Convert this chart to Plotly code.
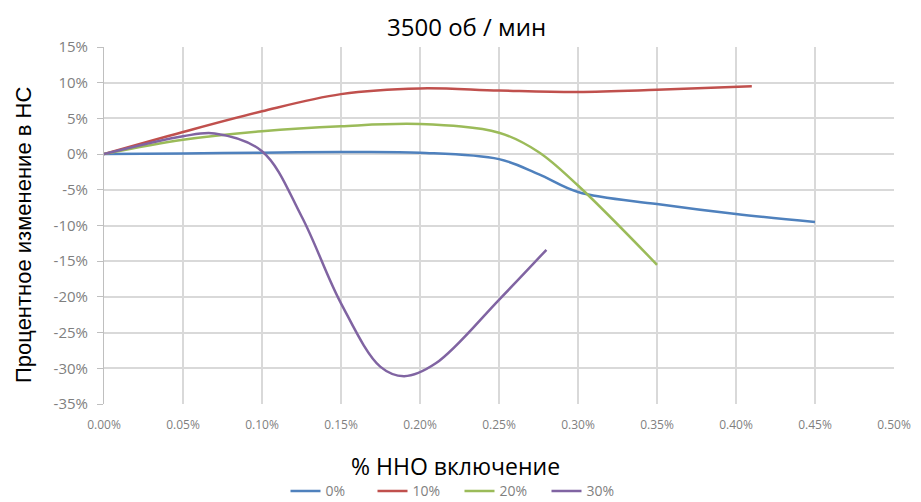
import plotly.graph_objects as go

x_ticks = [0.00, 0.05, 0.10, 0.15, 0.20, 0.25, 0.30, 0.35, 0.40, 0.45, 0.50]
x_tick_labels = ["0.00%", "0.05%", "0.10%", "0.15%", "0.20%", "0.25%", "0.30%", "0.35%", "0.40%", "0.45%", "0.50%"]
y_ticks = [15, 10, 5, 0, -5, -10, -15, -20, -25, -30, -35]
y_tick_labels = ["15%", "10%", "5%", "0%", "-5%", "-10%", "-15%", "-20%", "-25%", "-30%", "-35%"]

x_0 = [0.00, 0.05, 0.10, 0.15, 0.20, 0.25, 0.275, 0.30, 0.35, 0.40, 0.45]
y_0 = [0.0, 0.1, 0.2, 0.3, 0.2, -0.7, -2.8, -5.3, -7.0, -8.4, -9.5]

x_10 = [0.00, 0.05, 0.10, 0.15, 0.20, 0.25, 0.30, 0.35, 0.41]
y_10 = [0.0, 3.1, 6.0, 8.4, 9.2, 8.9, 8.7, 9.0, 9.5]

x_20 = [0.00, 0.05, 0.10, 0.15, 0.20, 0.25, 0.275, 0.30, 0.35]
y_20 = [0.0, 2.0, 3.2, 3.9, 4.2, 3.0, 0.3, -4.4, -15.5]

x_30 = [0.00, 0.05, 0.07, 0.10, 0.125, 0.15, 0.175, 0.19, 0.21, 0.25, 0.28]
y_30 = [0.0, 2.5, 2.9, 0.4, -8.7, -20.9, -29.8, -31.1, -29.3, -20.4, -13.4]

series = [
    ("0%", x_0, y_0, "#4f81bd"),
    ("10%", x_10, y_10, "#c0504d"),
    ("20%", x_20, y_20, "#9bbb59"),
    ("30%", x_30, y_30, "#8064a2"),
]

fig = go.Figure()
for name, xs, ys, color in series:
    fig.add_trace(go.Scatter(x=xs, y=ys, name=name, mode="lines",
                             line=dict(color=color, width=2.5, shape="spline", smoothing=1.0)))

grid = "#d9d9d9"
fig.update_layout(
    width=913, height=494,
    margin=dict(l=96, r=27, t=39, b=98, autoexpand=False),
    paper_bgcolor="white", plot_bgcolor="white",
    font=dict(family="Open Sans, Liberation Sans, sans-serif", color="#595959"),
    showlegend=True,
    legend=dict(orientation="h", x=0.45, xanchor="center", y=-0.2, yanchor="top",
                entrywidth=42, entrywidthmode="pixels",
                font=dict(size=14, color="#7f7f7f"), tracegroupgap=0),
    xaxis=dict(range=[0, 0.5], tickvals=x_ticks, ticktext=x_tick_labels,
               showgrid=True, gridcolor=grid, gridwidth=2, zeroline=False,
               showline=False, ticks="", tickfont=dict(size=12, color="#7f7f7f"),
               ticklabelstandoff=12, automargin=False),
    yaxis=dict(range=[-35, 15], tickvals=y_ticks, ticktext=y_tick_labels,
               showgrid=True, gridcolor=grid, gridwidth=2, zeroline=False,
               showline=True, linecolor="#bfbfbf", linewidth=1,
               ticks="outside", ticklen=6, tickcolor="#bfbfbf",
               ticklabelstandoff=6, automargin=False,
               tickfont=dict(size=15, color="#7f7f7f")),
    annotations=[
        dict(text="3500 об / мин", xref="paper", yref="paper", x=(466-104)/790, y=1 + (47-27)/357,
             showarrow=False, xanchor="center", yanchor="middle",
             font=dict(size=24, color="#000000")),
        dict(text="% ННО включение", xref="paper", yref="paper", x=(455-104)/790, y=-(466-404)/357,
             showarrow=False, xanchor="center", yanchor="middle",
             font=dict(size=23, color="#000000")),
        dict(text="Процентное изменение в НС", xref="paper", yref="paper", x=-(104-23)/790, y=(404-235)/357,
             showarrow=False, xanchor="center", yanchor="middle", textangle=-90,
             font=dict(family="Liberation Sans Narrow, Liberation Sans, sans-serif", size=22, color="#000000")),
    ],
)

fig.write_html("out.html")
